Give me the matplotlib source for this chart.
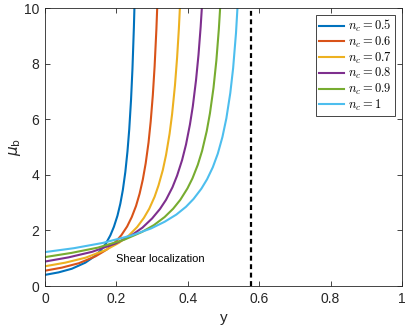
import matplotlib
matplotlib.use("Agg")
import matplotlib.pyplot as plt

plt.rcParams['font.family'] = ['Liberation Sans', 'DejaVu Sans']

# Curve data (y, mu_b) for each n_c
nc_labels = ["0.5", "0.6", "0.7", "0.8", "0.9", "1"]

y_05 = [0.0, 0.038, 0.075, 0.113, 0.138, 0.156, 0.171, 0.183, 0.193, 0.203, 0.211, 0.218, 0.225, 0.231, 0.236, 0.241, 0.245, 0.249, 0.251]
mu_05 = [0.4, 0.49, 0.62, 0.84, 1.06, 1.28, 1.54, 1.82, 2.13, 2.53, 2.96, 3.45, 4.1, 4.84, 5.64, 6.7, 7.82, 9.31, 10.24]

y_06 = [0.0, 0.047, 0.095, 0.142, 0.173, 0.195, 0.214, 0.230, 0.243, 0.255, 0.265, 0.274, 0.282, 0.290, 0.296, 0.302, 0.307, 0.312, 0.315]
mu_06 = [0.55, 0.66, 0.82, 1.07, 1.31, 1.55, 1.83, 2.14, 2.48, 2.88, 3.32, 3.83, 4.41, 5.16, 5.91, 6.86, 7.89, 9.23, 10.24]

y_07 = [0.0, 0.057, 0.114, 0.171, 0.208, 0.235, 0.258, 0.277, 0.292, 0.307, 0.318, 0.330, 0.339, 0.349, 0.356, 0.364, 0.370, 0.375, 0.379]
mu_07 = [0.71, 0.84, 1.02, 1.30, 1.56, 1.82, 2.12, 2.45, 2.78, 3.21, 3.62, 4.17, 4.71, 5.48, 6.18, 7.21, 8.21, 9.26, 10.31]

y_08 = [0.0, 0.066, 0.132, 0.198, 0.242, 0.273, 0.3, 0.322, 0.339, 0.357, 0.37, 0.384, 0.395, 0.406, 0.414, 0.423, 0.43, 0.436, 0.441]
mu_08 = [0.88, 1.03, 1.23, 1.53, 1.82, 2.1, 2.43, 2.77, 3.1, 3.55, 3.97, 4.53, 5.09, 5.81, 6.46, 7.4, 8.32, 9.32, 10.34]

y_09 = [0.0, 0.074, 0.148, 0.221, 0.271, 0.305, 0.335, 0.359, 0.379, 0.399, 0.413, 0.428, 0.44, 0.453, 0.462, 0.472, 0.48, 0.487, 0.492]
mu_09 = [1.04, 1.19, 1.38, 1.66, 1.94, 2.19, 2.48, 2.78, 3.1, 3.51, 3.87, 4.36, 4.86, 5.57, 6.21, 7.13, 8.11, 9.25, 10.3]

y_10 = [0.0, 0.081, 0.162, 0.243, 0.297, 0.335, 0.368, 0.395, 0.416, 0.438, 0.454, 0.47, 0.484, 0.497, 0.508, 0.519, 0.527, 0.535, 0.541]
mu_10 = [1.22, 1.36, 1.55, 1.82, 2.07, 2.31, 2.57, 2.85, 3.13, 3.5, 3.84, 4.27, 4.76, 5.36, 6.03, 6.94, 7.84, 9.1, 10.42]

y_crit = 0.577
x_ticks = [0, 0.2, 0.4, 0.6, 0.8, 1]
y_ticks = [0, 2, 4, 6, 8, 10]

colors = ["#0072BD", "#D95319", "#EDB120", "#7E2F8E", "#77AC30", "#4DBEEE"]
series = [(y_05, mu_05), (y_06, mu_06), (y_07, mu_07),
          (y_08, mu_08), (y_09, mu_09), (y_10, mu_10)]

fig = plt.figure(figsize=(4.07, 3.29), dpi=100)
ax = fig.add_axes([45 / 407, 1 - 286 / 329, 357 / 407, 278 / 329])

for (ys, ms), c, lab in zip(series, colors, nc_labels):
    ax.plot(ys, ms, color=c, lw=1.5, label=r"$n_c = %s$" % lab)

ax.axvline(y_crit, color="black", lw=1.6, linestyle=(0, (2.2, 1.6)))

ax.text(0.2, 0.97, "Shear localization", fontsize=8, ha="left", va="center")

ax.set_xlim(0, 1)
ax.set_ylim(0, 10)
ax.set_xticks(x_ticks)
ax.set_xticklabels(["0", "0.2", "0.4", "0.6", "0.8", "1"])
ax.set_yticks(y_ticks)
ax.tick_params(direction="in", top=True, right=True, length=3.5, width=0.6,
               labelsize=10, colors="#262626", pad=4)
for s in ax.spines.values():
    s.set_linewidth(0.6)
    s.set_color("#262626")

ax.set_xlabel("y", fontsize=11, color="#262626", labelpad=4)
ax.set_ylabel(r"$\mu_\mathrm{b}$", fontsize=11, color="#262626", labelpad=1)

leg = ax.legend(loc="upper right", bbox_to_anchor=(0.98, 0.975), borderaxespad=0,
                fancybox=False, framealpha=1, edgecolor="#262626",
                prop={"size": 9, "math_fontfamily": "cm"},
                handlelength=2.0, handletextpad=0.3, labelspacing=0.05,
                borderpad=0.25)
leg.get_frame().set_linewidth(0.6)

fig.savefig("out.png", dpi=100)
